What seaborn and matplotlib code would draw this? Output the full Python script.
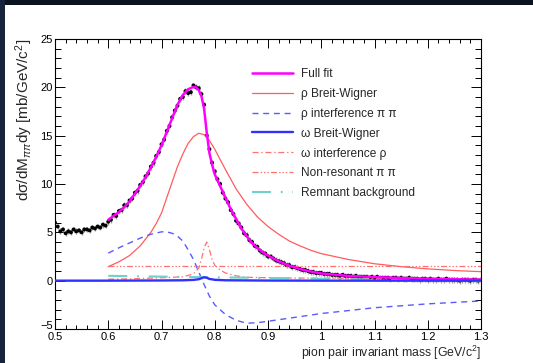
import numpy as np
import pandas as pd
import matplotlib
matplotlib.use("Agg")
import matplotlib.pyplot as plt
import seaborn as sns
from matplotlib.ticker import MultipleLocator, FuncFormatter
from matplotlib.patches import Rectangle
from matplotlib.transforms import ScaledTranslation

# ---------------- data ----------------
# measured points, bins of 0.005 GeV/c^2 from 0.500 to 1.300
data_low = [6.0, 5.6, 5.1, 5.3, 4.9, 5.1, 5.0, 5.3, 5.1, 5.2, 5.0, 5.3, 5.3, 5.2,
            5.5, 5.4, 5.6, 5.5, 5.8, 5.7, 6.1]
data_mid = [6.3, 6.8, 6.7, 7.2, 7.3, 7.8, 7.8, 8.3, 8.5, 9.1, 9.3, 9.9, 10.2, 10.8,
            11.1, 11.8, 12.2, 12.9, 13.3, 14.1, 14.6, 15.5, 16.0, 16.9, 17.6, 18.1,
            18.8, 19.0, 19.6, 19.4, 19.5, 20.2, 20.0, 19.9, 19.3, 18.2, 15.0, 13.6,
            12.2, 11.3, 10.5, 10.0, 9.1, 8.5, 8.1, 7.3, 6.9, 6.2, 5.9, 5.5, 4.9, 4.7,
            4.2, 4.0, 3.6, 3.5, 3.1, 2.9, 2.8, 2.5, 2.5, 2.3, 2.1, 2.0, 1.9, 1.8, 1.6,
            1.6, 1.4, 1.4, 1.3, 1.2, 1.1, 1.1, 1.0, 0.9, 0.9, 0.8, 0.8, 0.8]
data_high = [0.7, 0.7, 0.7, 0.6, 0.6, 0.6, 0.5, 0.6, 0.5, 0.5, 0.5, 0.4, 0.5, 0.4,
             0.4, 0.4, 0.4, 0.3, 0.4, 0.3, 0.4, 0.3, 0.3, 0.3, 0.3, 0.2, 0.3, 0.3,
             0.2, 0.3, 0.2, 0.2, 0.3, 0.2, 0.2, 0.2, 0.1, 0.2, 0.2, 0.1, 0.2, 0.1,
             0.1, 0.2, 0.1, 0.1, 0.2, 0.1, 0.1, 0.1, 0.1, 0.0, 0.1, 0.1, 0.1, 0.0,
             0.1, 0.1, 0.0, 0.1]
data_values = data_low + data_mid + data_high
data_mass = np.round(np.linspace(0.5, 1.3, len(data_values)), 3)

fit_mass = [0.60, 0.61, 0.62, 0.63, 0.64, 0.65, 0.66, 0.67, 0.68, 0.69, 0.70, 0.71,
            0.72, 0.73, 0.74, 0.75, 0.76, 0.765, 0.77, 0.775, 0.78, 0.785, 0.79,
            0.795, 0.80, 0.81, 0.82, 0.83, 0.84, 0.85, 0.86, 0.87, 0.88, 0.89, 0.90,
            0.92, 0.94, 0.96, 0.98, 1.00, 1.05, 1.10, 1.15, 1.20, 1.25, 1.30]
fit_values = [6.3, 6.7, 7.1, 7.6, 8.2, 9.0, 9.8, 10.7, 11.7, 12.8, 14.0, 15.4,
              16.8, 18.2, 19.2, 19.8, 20.05, 20.0, 19.7, 19.1, 17.8, 15.3, 13.2,
              12.0, 11.0, 9.8, 8.6, 7.4, 6.4, 5.4, 4.6, 3.9, 3.4, 2.95, 2.6,
              2.0, 1.55, 1.2, 0.95, 0.75, 0.5, 0.37, 0.28, 0.2, 0.15, 0.1]

rho_mass = [0.60, 0.62, 0.64, 0.66, 0.68, 0.69, 0.70, 0.71, 0.72, 0.73, 0.74, 0.75,
            0.76, 0.77, 0.78, 0.79, 0.80, 0.82, 0.84, 0.86, 0.88, 0.90, 0.92, 0.94,
            0.96, 0.98, 1.00, 1.05, 1.10, 1.15, 1.20, 1.25, 1.30]
rho_bw = [1.45, 1.95, 2.6, 3.6, 5.0, 5.9, 7.0, 8.6, 10.2, 11.8, 13.1, 14.2,
          14.9, 15.25, 15.1, 14.5, 13.6, 11.5, 9.5, 7.9, 6.6, 5.6, 4.8, 4.1,
          3.6, 3.15, 2.8, 2.2, 1.75, 1.45, 1.22, 1.05, 0.93]

rhoint_mass = [0.60, 0.62, 0.64, 0.66, 0.68, 0.70, 0.71, 0.72, 0.73, 0.74, 0.75,
               0.76, 0.77, 0.78, 0.79, 0.80, 0.82, 0.84, 0.86, 0.88, 0.90, 0.95,
               1.00, 1.05, 1.10, 1.15, 1.20, 1.25, 1.30]
rho_interf = [2.85, 3.4, 3.9, 4.4, 4.8, 5.05, 5.05, 4.9, 4.6, 4.1, 3.2,
              2.2, 0.9, -0.4, -1.6, -2.5, -3.5, -4.1, -4.4, -4.35, -4.2, -3.8,
              -3.4, -3.1, -2.8, -2.6, -2.4, -2.25, -2.1]

omega_mass = [0.50, 0.60, 0.70, 0.74, 0.76, 0.77, 0.775, 0.78, 0.785, 0.79, 0.80,
              0.82, 0.90, 1.00, 1.30]
omega_bw = [0.0, 0.0, 0.02, 0.04, 0.08, 0.15, 0.25, 0.35, 0.3, 0.18, 0.09,
            0.04, 0.01, 0.0, 0.0]

omint_mass = [0.60, 0.65, 0.70, 0.74, 0.76, 0.77, 0.775, 0.78, 0.785, 0.79, 0.795,
              0.80, 0.81, 0.82, 0.84, 0.86, 0.90, 1.00, 1.30]
omega_interf = [0.15, 0.2, 0.3, 0.4, 0.7, 1.3, 2.2, 3.4, 4.0, 3.2, 2.2,
                1.6, 1.1, 0.8, 0.5, 0.35, 0.3, 0.25, 0.2]

nonres_mass = [0.60, 0.80, 1.00, 1.30]
nonres = [1.5, 1.5, 1.5, 1.5]

remn_mass = [0.60, 0.70, 0.80, 0.90, 1.00, 1.10, 1.20, 1.30]
remnant = [0.5, 0.42, 0.35, 0.28, 0.2, 0.1, 0.0, -0.05]

labels = ["Full fit", "ρ Breit-Wigner", "ρ interference π π", "ω Breit-Wigner",
          "ω interference ρ", "Non-resonant π π", "Remnant background"]

# ---------------- style ----------------
sns.set_style("ticks")
plt.rcParams["font.family"] = ["Liberation Sans", "DejaVu Sans"]
plt.rcParams["mathtext.fontset"] = "custom"
plt.rcParams["mathtext.rm"] = "Liberation Sans"
plt.rcParams["mathtext.it"] = "Liberation Sans:italic"
plt.rcParams["mathtext.bf"] = "Liberation Sans:bold"
plt.rcParams["lines.scale_dashes"] = False
plt.rcParams["axes.unicode_minus"] = True

W, H = 533, 363
fig = plt.figure(figsize=(W / 100, H / 100), dpi=100)
fig.patch.set_facecolor("white")
# dark slide border (top and left)
fig.patches.append(Rectangle((0, 1 - 5 / H), 1, 5 / H, transform=fig.transFigure,
                             facecolor="#0c1320", edgecolor="none", zorder=0))
fig.patches.append(Rectangle((0, 0), 5 / W, 1, transform=fig.transFigure,
                             facecolor="#15243a", edgecolor="none", zorder=0))

ax = fig.add_axes([55 / W, 1 - 329 / H, 426 / W, 290 / H])

# data points
df_pts = pd.DataFrame({"mass": data_mass, "xs": data_values})
ax.errorbar(df_pts["mass"], df_pts["xs"], yerr=0.3, fmt="none",
            ecolor="#a0a0a0", elinewidth=1.0, zorder=2)
sns.scatterplot(data=df_pts, x="mass", y="xs", ax=ax, color="black", s=8,
                marker="o", edgecolor="none", zorder=3, legend=False)

handles = []

def curve(xv, yv, color, lw, dashes=None, z=4):
    sns.lineplot(x=xv, y=yv, ax=ax, color=color, lw=lw, zorder=z,
                 estimator=None, sort=True)
    ln = ax.lines[-1]
    if dashes is not None:
        ln.set_dashes(dashes)
    handles.append(ln)
    return ln

curve(fit_mass, fit_values, "#ff00ff", 1.8, z=5)
curve(rho_mass, rho_bw, "#ff5c5c", 0.9)
curve(rhoint_mass, rho_interf, "#5a5aff", 1.0, dashes=(4.3, 3.4))
curve(omega_mass, omega_bw, "#3030ff", 1.7, z=6)
curve(omint_mass, omega_interf, "#ff7070", 0.9, dashes=(4.3, 2.0, 1.0, 2.0))
curve(nonres_mass, nonres, "#ff7070", 0.9,
      dashes=(4.3, 1.6, 1.0, 1.4, 1.0, 1.4, 1.0, 1.6))
curve(remn_mass, remnant, "#6fd0d0", 1.5, dashes=(13.7, 7.0, 1.4, 7.0))

ax.set_xlim(0.5, 1.3)
ax.set_ylim(-5, 25)
ax.xaxis.set_major_locator(MultipleLocator(0.1))
ax.xaxis.set_minor_locator(MultipleLocator(0.02))
ax.yaxis.set_major_locator(MultipleLocator(5))
ax.yaxis.set_minor_locator(MultipleLocator(1))
ax.xaxis.set_major_formatter(FuncFormatter(lambda v, p: "%g" % round(v, 2)))
ax.tick_params(which="both", direction="in", top=True, right=True,
               labelsize=8, colors="black", width=0.7)
ax.tick_params(axis="x", which="major", length=6.5, pad=2.5)
ax.tick_params(axis="x", which="minor", length=3.2)
ax.tick_params(axis="y", which="major", length=7.5, pad=1.5)
ax.tick_params(axis="y", which="minor", length=4.0)
for s in ax.spines.values():
    s.set_linewidth(0.8)
    s.set_color("black")

# nudge the lowest y tick label up a little (as in the reference)
fig.canvas.draw()
for lbl in ax.get_yticklabels():
    if lbl.get_text().replace("\u2212", "-") == "-5":
        lbl.set_transform(lbl.get_transform() +
                          ScaledTranslation(0, 3 / 72, fig.dpi_scale_trans))

ax.set_xlabel("pion pair invariant mass [GeV/c$^{2}$]", fontsize=8.8, loc="right")
ax.xaxis.set_label_coords(1.0, -0.052)
ax.set_ylabel("dσ/dM$_{ππ}$dy [mb/GeV/c$^{2}$]", fontsize=11, loc="top")
ax.yaxis.set_label_coords(-0.046, 1.0)

ax.legend(handles=handles, labels=labels, loc="upper left",
          bbox_to_anchor=(252 / W, 1 - 68 / H), bbox_transform=fig.transFigure,
          frameon=False, fontsize=8.6, handlelength=3.45, handletextpad=0.65,
          labelspacing=0.66, borderpad=0, borderaxespad=0)

fig.savefig("out.png", dpi=100, facecolor=fig.get_facecolor())
